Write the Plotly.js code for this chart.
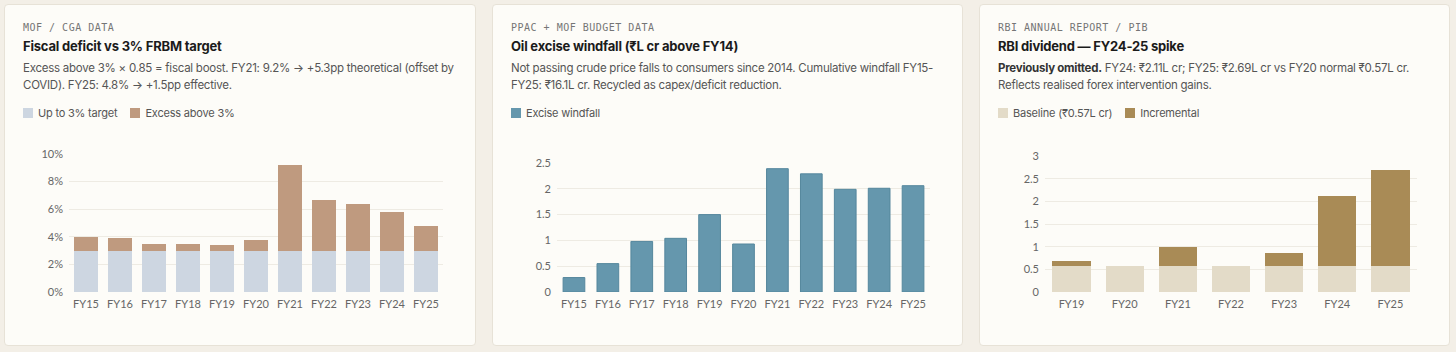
<!DOCTYPE html>
<html><head><meta charset="utf-8">
<script src="https://cdn.plot.ly/plotly-3.0.1.min.js"></script>
<style>
html,body{margin:0;padding:0;background:#f3efe7;width:1456px;height:352px;overflow:hidden;}
.card{position:absolute;top:4px;height:342px;background:#fdfcf8;border:1px solid #e7e2d7;border-radius:4px;box-sizing:border-box;}
.src{position:absolute;left:18px;top:16px;line-height:14px;font-family:"DejaVu Sans Mono",monospace;font-size:10px;letter-spacing:0.5px;color:#757575;white-space:nowrap;}
.ttl{position:absolute;left:18px;top:34px;line-height:14px;font-family:Inter,sans-serif;font-weight:700;font-size:13px;letter-spacing:-0.2px;color:#1b1b1b;white-space:nowrap;}
.dsc{position:absolute;left:18px;top:54.5px;line-height:17px;font-family:Inter,sans-serif;font-size:11.5px;letter-spacing:-0.25px;color:#555;white-space:nowrap;}
.dsc b{color:#333;font-weight:700;}
.lg{position:absolute;left:18px;top:100.5px;line-height:14px;font-family:Inter,sans-serif;font-size:11px;letter-spacing:-0.2px;color:#555;white-space:nowrap;}
.lg span.it{display:inline-flex;align-items:center;margin-right:13px;}
.sw{display:inline-block;width:10px;height:10px;margin-right:5px;}
.plot{position:absolute;top:130px;height:215px;}
</style>
</head><body>
<div class="card" style="left:4px;width:472px;">
  <div class="src">MOF / CGA DATA</div>
  <div class="ttl">Fiscal deficit vs 3% FRBM target</div>
  <div class="dsc">Excess above 3% × 0.85 = fiscal boost. FY21: 9.2% → +5.3pp theoretical (offset by<br>COVID). FY25: 4.8% → +1.5pp effective.</div>
  <div class="lg"><span class="it"><span class="sw" style="background:#cdd6e1"></span>Up to 3% target</span><span class="it"><span class="sw" style="background:#bf9a7f"></span>Excess above 3%</span></div>
</div>
<div class="card" style="left:492px;width:471px;">
  <div class="src">PPAC + MOF BUDGET DATA</div>
  <div class="ttl">Oil excise windfall (₹L cr above FY14)</div>
  <div class="dsc">Not passing crude price falls to consumers since 2014. Cumulative windfall FY15-<br>FY25: ₹16.1L cr. Recycled as capex/deficit reduction.</div>
  <div class="lg"><span class="it"><span class="sw" style="background:#6597ad"></span>Excise windfall</span></div>
</div>
<div class="card" style="left:979px;width:471px;">
  <div class="src">RBI ANNUAL REPORT / PIB</div>
  <div class="ttl">RBI dividend — FY24-25 spike</div>
  <div class="dsc"><b>Previously omitted.</b> FY24: ₹2.11L cr; FY25: ₹2.69L cr vs FY20 normal ₹0.57L cr.<br>Reflects realised forex intervention gains.</div>
  <div class="lg"><span class="it"><span class="sw" style="background:#e3dbc8"></span>Baseline (₹0.57L cr)</span><span class="it"><span class="sw" style="background:#a98b56"></span>Incremental</span></div>
</div>
<div id="p1" class="plot" style="left:4px;width:472px;"></div>
<div id="p2" class="plot" style="left:492px;width:471px;"></div>
<div id="p3" class="plot" style="left:979px;width:471px;"></div>
<script>
// ---- data ----
const fiscalYears = ["FY15","FY16","FY17","FY18","FY19","FY20","FY21","FY22","FY23","FY24","FY25"];
const fiscalDeficit = [4.0,3.9,3.5,3.5,3.4,3.8,9.2,6.7,6.4,5.8,4.8];
const frbmTarget = 3;

const exciseYears = ["FY15","FY16","FY17","FY18","FY19","FY20","FY21","FY22","FY23","FY24","FY25"];
const exciseWindfall = [0.28,0.55,0.98,1.04,1.5,0.93,2.39,2.29,1.99,2.01,2.06];

const rbiYears = ["FY19","FY20","FY21","FY22","FY23","FY24","FY25"];
const rbiDividend = [0.68,0.57,0.99,0.57,0.87,2.11,2.69];
const rbiBaseline = 0.57;

const yTicks1 = [0,2,4,6,8,10];
const yTicks2 = [0,0.5,1,1.5,2,2.5];
const yTicks3 = [0,0.5,1,1.5,2,2.5,3];

// ---- chart helpers ----
const tickFont = {family:"Lato, sans-serif", size:11, color:"#666"};
function layout(w, m, range, ticks, suffix, gap){
  return {
    width:w, height:215, margin:m,
    paper_bgcolor:"rgba(0,0,0,0)", plot_bgcolor:"rgba(0,0,0,0)",
    barmode:"stack", bargap:gap, showlegend:false,
    font:tickFont,
    xaxis:{type:"category", showgrid:false, showline:false, zeroline:false, ticks:"", tickfont:tickFont, ticklabelstandoff:4, fixedrange:true},
    yaxis:{range:range, tickmode:"array", tickvals:ticks, ticktext:ticks.map(v=>v+suffix),
           gridcolor:"#eeebe3", gridwidth:1, zeroline:false, showline:false, ticks:"",
           tickfont:tickFont, ticklabelstandoff:5, fixedrange:true}
  };
}
const cfg = {staticPlot:true, displayModeBar:false};

Plotly.newPlot("p1", [
  {type:"bar", name:"Up to 3% target", x:fiscalYears, y:fiscalDeficit.map(v=>Math.min(v,frbmTarget)), marker:{color:"#cdd6e1"}},
  {type:"bar", name:"Excess above 3%", x:fiscalYears, y:fiscalDeficit.map(v=>Math.max(v-frbmTarget,0)), marker:{color:"#bf9a7f"}}
], layout(472, {l:65,r:33,t:24,b:53}, [0,10], yTicks1, "%", 0.29), cfg);

Plotly.newPlot("p2", [
  {type:"bar", name:"Excise windfall", x:exciseYears, y:exciseWindfall, marker:{color:"#6597ad", line:{color:"#55879d", width:1}}}
], layout(471, {l:65,r:33,t:32.7,b:53}, [0,2.5], yTicks2, "", 0.36), cfg);

Plotly.newPlot("p3", [
  {type:"bar", name:"Baseline (₹0.57L cr)", x:rbiYears, y:rbiDividend.map(v=>Math.min(v,rbiBaseline)), marker:{color:"#e3dbc8"}},
  {type:"bar", name:"Incremental", x:rbiYears, y:rbiDividend.map(v=>Math.max(v-rbiBaseline,0)), marker:{color:"#a98b56"}}
], layout(471, {l:66,r:33,t:26,b:53}, [0,3], yTicks3, "", 0.28), cfg);
</script>
</body></html>
